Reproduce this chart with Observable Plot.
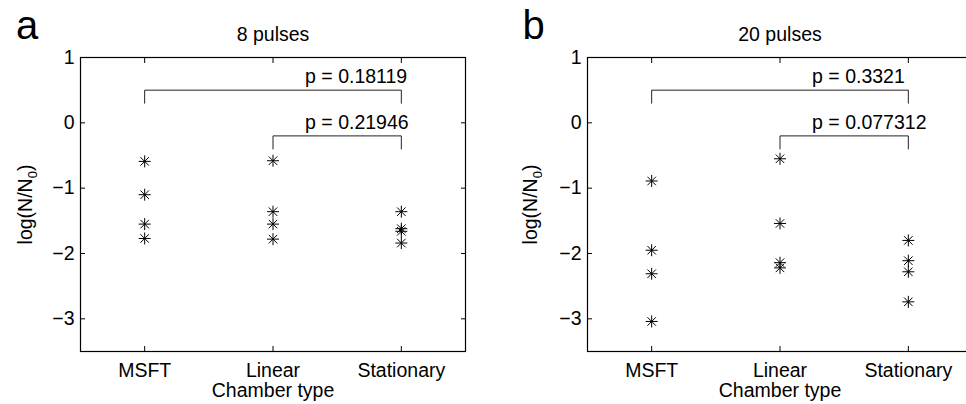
<!DOCTYPE html>
<html>
<head>
<meta charset="utf-8">
<script src="https://cdn.jsdelivr.net/npm/d3@7"></script>
<script src="https://cdn.jsdelivr.net/npm/@observablehq/plot@0.6"></script>
<style>
html, body { margin: 0; padding: 0; background: #fff; overflow: hidden; }
#wrap { position: relative; width: 966px; height: 404px; overflow: hidden; background: #fff; }
.panel { position: absolute; top: 0; }
</style>
</head>
<body>
<div id="wrap"></div>
<script>
// ---- data ----
const categories = ["MSFT", "Linear", "Stationary"];
const yTicks = [1, 0, -1, -2, -3];
const titles = ["8 pulses", "20 pulses"];
const letters = ["a", "b"];
const xLabel = "Chamber type";

// 8 pulses
const msft8 = [-0.59, -1.10, -1.55, -1.77];
const linear8 = [-0.58, -1.36, -1.55, -1.78];
const stationary8 = [-1.36, -1.62, -1.66, -1.84];
// 20 pulses
const msft20 = [-0.89, -1.95, -2.31, -3.04];
const linear20 = [-0.55, -1.54, -2.14, -2.22];
const stationary20 = [-1.80, -2.11, -2.28, -2.74];

const pLabels8 = ["p = 0.18119", "p = 0.21946"];
const pLabels20 = ["p = 0.3321", "p = 0.077312"];
// brackets: from category, to category, bar level, foot level, label level
const bracketFrom = ["MSFT", "Linear"];
const bracketTo = ["Stationary", "Stationary"];
const bracketLevel = [0.5, -0.2];
const bracketFoot = [0.3, -0.4];
const pLabelY = [0.7, 0.0];
const pLabelX = 2.25;

// ---- drawing ----
const FONT = "'Liberation Sans', Arial, Helvetica, sans-serif";
const FS = 19.5;

const asterisk = {
  draw(ctx, size) {
    const r = Math.sqrt(size / Math.PI);
    const d = r * Math.SQRT1_2;
    ctx.moveTo(-r, 0); ctx.lineTo(r, 0);
    ctx.moveTo(0, -r); ctx.lineTo(0, r);
    ctx.moveTo(-d, -d); ctx.lineTo(d, d);
    ctx.moveTo(-d, d); ctx.lineTo(d, -d);
  }
};

const fmtY = d => d < 0 ? "\u2212" + (-d) : String(d);
const catX = c => categories.indexOf(c) + 1;

function panel({series, title, letter, pLabels, width, marginLeft, marginRight, letterDx, yLabelDx}) {
  const pts = series.flatMap((vals, i) => vals.map(v => ({x: i + 1, y: v})));
  const bracketPts = bracketFrom.flatMap((f, i) => [
    {id: i, x: catX(f), y: bracketFoot[i]},
    {id: i, x: catX(f), y: bracketLevel[i]},
    {id: i, x: catX(bracketTo[i]), y: bracketLevel[i]},
    {id: i, x: catX(bracketTo[i]), y: bracketFoot[i]}
  ]);
  const pText = pLabels.map((t, i) => ({t, x: pLabelX, y: pLabelY[i]}));
  const svg = Plot.plot({
    width, height: 404,
    marginTop: 57, marginBottom: 53, marginLeft, marginRight,
    style: {fontFamily: FONT, fontSize: FS + "px", color: "black", background: "white", overflow: "visible"},
    x: {domain: [0.5, 3.5]},
    y: {domain: [-3.5, 1]},
    marks: [
      Plot.frame({stroke: "black", strokeWidth: 1.2}),
      Plot.axisX({anchor: "bottom", ticks: [1, 2, 3], tickSize: -5, tickPadding: 16.5,
        tickFormat: i => categories[i - 1], label: null, strokeWidth: 1}),
      Plot.axisX({anchor: "top", ticks: [1, 2, 3], tickSize: -5, tickFormat: () => "", label: null}),
      Plot.axisY({anchor: "left", ticks: yTicks, tickSize: -5, tickPadding: 11, tickFormat: fmtY, label: null}),
      Plot.axisY({anchor: "right", ticks: yTicks, tickSize: -5, tickFormat: () => "", label: null}),
      Plot.line(bracketPts, {x: "x", y: "y", z: "id", stroke: "#222", strokeWidth: 1}),
      Plot.text(pText, {x: "x", y: "y", text: "t", textAnchor: "start", lineAnchor: "middle", fill: "black"}),
      Plot.dot(pts, {x: "x", y: "y", symbol: asterisk, r: 6, stroke: "black", fill: "none", strokeWidth: 1}),
      Plot.text([title], {frameAnchor: "top", lineAnchor: "bottom", dy: -17, fill: "black"}),
      Plot.text([xLabel], {frameAnchor: "bottom", lineAnchor: "bottom", dy: 45.5, fill: "black"}),
      Plot.text([letter], {frameAnchor: "top-left", textAnchor: "start", lineAnchor: "bottom", dx: letterDx, dy: -19, fontSize: 40, fill: "black"}),
      Plot.text(["log(N/N0)"], {frameAnchor: "left", textAnchor: "middle", lineAnchor: "bottom", rotate: -90, dx: yLabelDx, fill: "black", className: "ylab"})
    ]
  });
  // render subscript in y label
  d3.select(svg).selectAll(".ylab text").each(function() {
    const t = d3.select(this);
    t.text(null);
    t.append("tspan").text("log(N/N");
    t.append("tspan").attr("font-size", "13px").attr("dy", "5").text("0");
    t.append("tspan").attr("dy", "-5").text(")");
  });
  return svg;
}

const wrap = document.getElementById("wrap");
const a = panel({series: [msft8, linear8, stationary8], title: titles[0], letter: letters[0], pLabels: pLabels8,
  width: 483, marginLeft: 80, marginRight: 18, letterDx: -64.5, yLabelDx: -49});
a.classList.add("panel"); a.style.left = "0px";
wrap.appendChild(a);
const b = panel({series: [msft20, linear20, stationary20], title: titles[1], letter: letters[1], pLabels: pLabels20,
  width: 489, marginLeft: 104, marginRight: 0, letterDx: -65, yLabelDx: -51});
b.classList.add("panel"); b.style.left = "483px";
wrap.appendChild(b);
</script>
</body>
</html>
